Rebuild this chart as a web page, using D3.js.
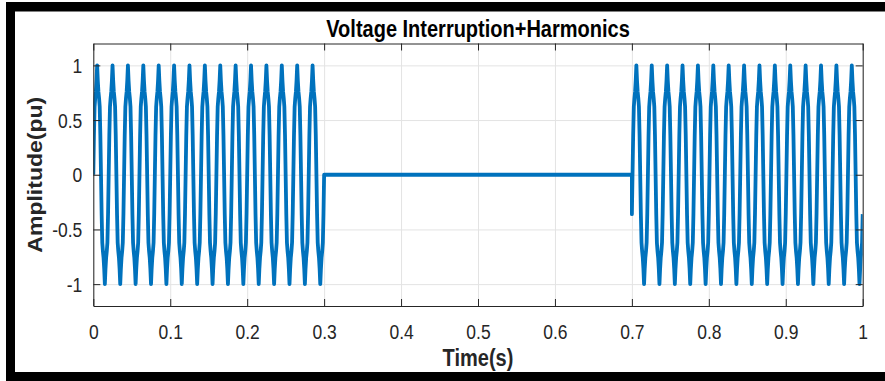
<!DOCTYPE html>
<html>
<head>
<meta charset="utf-8">
<script src="https://cdn.jsdelivr.net/npm/d3@7"></script>
<style>
  body { margin: 0; background: #fff; }
  svg { display: block; font-family: "Liberation Sans", Arial, sans-serif; }
</style>
</head>
<body>
<div id="chart"></div>
<script>
// data
let period = 0.02                    // 50 Hz
// one cycle of the distorted wave, every 15 degrees
let cycleValues = [0, 0.36, 0.62, 0.70, 0.76, 0.86, 1.00, 0.86, 0.76, 0.70, 0.62, 0.36,
                   0, -0.36, -0.62, -0.70, -0.76, -0.86, -1.00, -0.86, -0.76, -0.70, -0.62, -0.36]
let segStart = [0, 0.7]              // supply on
let segEnd = [0.3, 1.0]
let segStartIndex = [0, 23]          // cycle sample the segment starts on
let xTicks = [0, 0.1, 0.2, 0.3, 0.4, 0.5, 0.6, 0.7, 0.8, 0.9, 1]
let xTickLabels = ["0", "0.1", "0.2", "0.3", "0.4", "0.5", "0.6", "0.7", "0.8", "0.9", "1"]
let yTicks = [-1, -0.5, 0, 0.5, 1]
let yTickLabels = ["-1", "-0.5", "0", "0.5", "1"]

let width = 885
let height = 381
let plotLeft = 93.3, plotRight = 862.7, plotTop = 43.5, plotBottom = 306
let stretch = 1.15   // the picture is a bit taller than wide

let svg = d3.select("#chart").append("svg")
    .attr("width", width)
    .attr("height", height)

// black frame round the picture
svg.append("rect").attr("x", 6).attr("y", 2).attr("width", 879).attr("height", 9.5).attr("fill", "#000")
svg.append("rect").attr("x", 6).attr("y", 2).attr("width", 9).attr("height", 379).attr("fill", "#000")
svg.append("rect").attr("x", 6).attr("y", 372).attr("width", 879).attr("height", 9).attr("fill", "#000")

let xScale = d3.scaleLinear().domain([0, 1]).range([plotLeft, plotRight])
let yScale = d3.scaleLinear().domain([-1.2, 1.2]).range([plotBottom, plotTop])

// grid
svg.append("g")
    .attr("class", "grid")
    .attr("transform", `translate(0, ${plotBottom})`)
    .call(d3.axisBottom(xScale).tickValues(xTicks).tickSize(-(plotBottom - plotTop)).tickFormat(""))
    .call(g => g.select(".domain").remove())
    .selectAll("line").attr("stroke", "#e3e3e3")
svg.append("g")
    .attr("class", "grid")
    .attr("transform", `translate(${plotLeft}, 0)`)
    .call(d3.axisLeft(yScale).tickValues(yTicks).tickSize(-(plotRight - plotLeft)).tickFormat(""))
    .call(g => g.select(".domain").remove())
    .selectAll("line").attr("stroke", "#e3e3e3")

// build the waveform from the cycle samples
let points = []
let step = period / cycleValues.length
for (let s = 0; s < segStart.length; s++) {
    let n = Math.round((segEnd[s] - segStart[s]) / step)
    for (let k = 0; k <= n; k++) {
        points.push([segStart[s] + k * step, cycleValues[(segStartIndex[s] + k) % cycleValues.length]])
    }
    if (s < segStart.length - 1) {
        // interruption: zero until the next segment
        points.push([segStart[s + 1], 0])
    }
}

svg.append("clipPath").attr("id", "clip")
    .append("rect").attr("x", plotLeft).attr("y", plotTop)
    .attr("width", plotRight - plotLeft).attr("height", plotBottom - plotTop)

let line = d3.line()
    .x(d => xScale(d[0]))
    .y(d => yScale(d[1]))

svg.append("path")
    .datum(points)
    .attr("clip-path", "url(#clip)")
    .attr("fill", "none")
    .attr("stroke", "#0072BD")
    .attr("stroke-width", 3.8)
    .attr("stroke-linejoin", "round")
    .attr("d", line)

// axes, ticks pointing in
let axisColor = "#262626"
let xAxis = svg.append("g")
    .attr("class", "axis")
    .attr("transform", `translate(0, ${plotBottom})`)
    .call(d3.axisBottom(xScale).tickValues(xTicks).tickSize(-7).tickSizeOuter(0)
        .tickFormat((d, i) => xTickLabels[i]))
xAxis.selectAll("text")
    .attr("y", null).attr("dy", null)
    .attr("transform", `translate(0, 33) scale(1, ${stretch})`)

let yAxis = svg.append("g")
    .attr("class", "axis")
    .attr("transform", `translate(${plotLeft}, 0)`)
    .call(d3.axisLeft(yScale).tickValues(yTicks).tickSize(-7).tickSizeOuter(0)
        .tickFormat((d, i) => yTickLabels[i]))
yAxis.selectAll("text")
    .attr("x", null).attr("dy", null)
    .attr("transform", `translate(-11, 7.2) scale(1, ${stretch})`)

svg.append("g")
    .attr("class", "axis")
    .attr("transform", `translate(0, ${plotTop})`)
    .call(d3.axisTop(xScale).tickValues(xTicks).tickSize(-7).tickSizeOuter(0).tickFormat(""))
svg.append("g")
    .attr("class", "axis")
    .attr("transform", `translate(${plotRight}, 0)`)
    .call(d3.axisRight(yScale).tickValues(yTicks).tickSize(-7).tickSizeOuter(0).tickFormat(""))

svg.selectAll(".axis .domain, .axis .tick line").attr("stroke", axisColor)
svg.selectAll(".axis .tick text")
    .attr("font-family", "Liberation Sans, Arial, sans-serif")
    .attr("font-size", 17.5)
    .attr("fill", axisColor)

// title and axis labels
svg.append("text")
    .attr("transform", `translate(${(plotLeft + plotRight) / 2}, 37) scale(1, ${stretch})`)
    .attr("text-anchor", "middle")
    .attr("font-size", 20)
    .attr("font-weight", "bold")
    .attr("fill", "#000")
    .text("Voltage Interruption+Harmonics")

svg.append("text")
    .attr("transform", `translate(${(plotLeft + plotRight) / 2}, 366) scale(1, ${stretch})`)
    .attr("text-anchor", "middle")
    .attr("font-size", 20)
    .attr("font-weight", "bold")
    .attr("fill", axisColor)
    .text("Time(s)")

svg.append("text")
    .attr("transform", `translate(42, ${(plotTop + plotBottom) / 2}) rotate(-90) scale(${stretch}, 1)`)
    .attr("text-anchor", "middle")
    .attr("font-size", 20)
    .attr("font-weight", "bold")
    .attr("fill", axisColor)
    .text("Amplitude(pu)")
</script>
</body>
</html>
